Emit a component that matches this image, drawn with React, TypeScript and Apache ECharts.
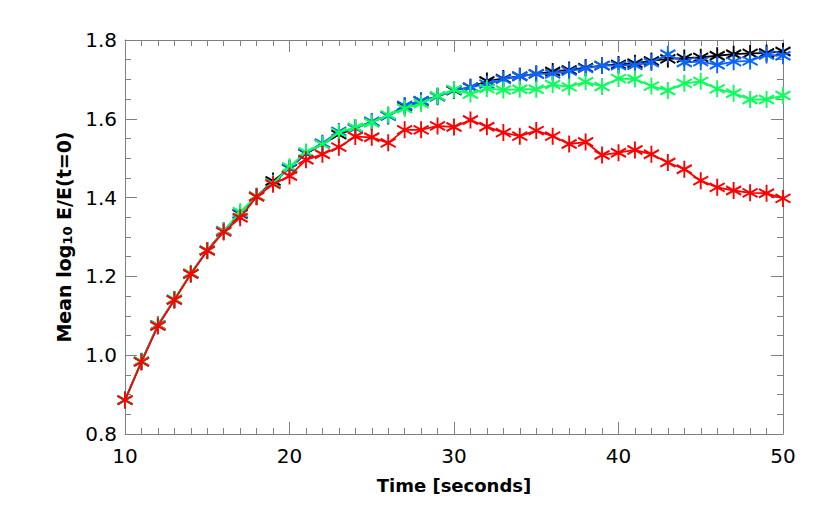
import React, { useEffect, useRef } from "react";
import * as echarts from "echarts";

const times: number[] = Array.from({ length: 41 }, (_, i) => 10 + i);

const blackSeries: number[] = [
  0.886, 0.984, 1.076, 1.141, 1.207, 1.266, 1.315, 1.358, 1.403, 1.442,
  1.474, 1.512, 1.536, 1.560, 1.577, 1.592, 1.608, 1.632, 1.645, 1.657,
  1.672, 1.680, 1.696, 1.702, 1.708, 1.714, 1.720, 1.724, 1.730, 1.735,
  1.738, 1.741, 1.747, 1.752, 1.754, 1.756, 1.760, 1.764, 1.766, 1.767,
  1.771,
];

const blueSeries: number[] = [
  0.886, 0.984, 1.077, 1.141, 1.207, 1.266, 1.316, 1.360, 1.403, 1.437,
  1.475, 1.513, 1.538, 1.568, 1.575, 1.593, 1.607, 1.634, 1.646, 1.656,
  1.673, 1.680, 1.688, 1.700, 1.708, 1.714, 1.714, 1.721, 1.728, 1.735,
  1.735, 1.736, 1.743, 1.764, 1.743, 1.745, 1.737, 1.745, 1.747, 1.762,
  1.760,
];

const greenSeries: number[] = [
  0.886, 0.985, 1.076, 1.142, 1.208, 1.266, 1.315, 1.364, 1.404, 1.436,
  1.478, 1.516, 1.535, 1.565, 1.578, 1.590, 1.610, 1.626, 1.639, 1.658,
  1.674, 1.663, 1.677, 1.673, 1.675, 1.675, 1.687, 1.681, 1.694, 1.682,
  1.702, 1.701, 1.683, 1.672, 1.690, 1.695, 1.676, 1.665, 1.649, 1.649,
  1.659,
];

const redSeries: number[] = [
  0.886, 0.983, 1.074, 1.140, 1.206, 1.265, 1.313, 1.349, 1.402, 1.434,
  1.455, 1.496, 1.510, 1.528, 1.555, 1.553, 1.539, 1.572, 1.572, 1.582,
  1.579, 1.597, 1.580, 1.565, 1.556, 1.570, 1.556, 1.536, 1.541, 1.508,
  1.514, 1.521, 1.510, 1.489, 1.472, 1.443, 1.426, 1.418, 1.412, 1.411,
  1.398,
];

const seriesNames = ["black", "blue", "green", "red"];
const seriesColors = ["#000000", "#0a64ff", "#0aff5a", "#ff0000"];
const seriesValues = [blackSeries, blueSeries, greenSeries, redSeries];

const xTitle = "Time [seconds]";

const STAR = "path://M0,-1L0,1M-0.866,-0.5L0.866,0.5M-0.866,0.5L0.866,-0.5";

export default function App() {
  const ref = useRef<HTMLDivElement>(null);
  useEffect(() => {
    if (!ref.current) return;
    const chart = echarts.init(ref.current, undefined, { renderer: "svg" });
    const axisColor = "#808080";
    const font = "DejaVu Sans";
    const tickCommon = {
      axisLine: { show: true, lineStyle: { color: axisColor, width: 1 } },
      axisTick: { show: true, inside: true, length: 12, lineStyle: { color: axisColor, width: 1 } },
      minorTick: { show: true, length: 6, lineStyle: { color: axisColor, width: 1 } },
      splitLine: { show: false },
    };
    chart.setOption({
      animation: false,
      backgroundColor: "#ffffff",
      grid: { left: 125, right: 39, top: 40, bottom: 80, containLabel: false },
      xAxis: [
        {
          type: "value",
          min: 10,
          max: 50,
          interval: 10,
          position: "bottom",
          ...tickCommon,
          minorTick: { ...tickCommon.minorTick, splitNumber: 10 },
          axisLabel: { color: "#000", fontFamily: font, fontSize: 20, margin: 12 },
          name: xTitle,
          nameLocation: "middle",
          nameGap: 42,
          nameTextStyle: { color: "#000", fontFamily: font, fontSize: 18, fontWeight: "bold" },
        },
        {
          type: "value",
          min: 10,
          max: 50,
          interval: 10,
          position: "top",
          ...tickCommon,
          minorTick: { ...tickCommon.minorTick, splitNumber: 10 },
          axisLabel: { show: false },
        },
      ],
      yAxis: [
        {
          type: "value",
          min: 0.8,
          max: 1.8,
          interval: 0.2,
          position: "left",
          ...tickCommon,
          minorTick: { ...tickCommon.minorTick, splitNumber: 4 },
          axisLabel: {
            color: "#000",
            fontFamily: font,
            fontSize: 20,
            margin: 8,
            formatter: (v: number) => v.toFixed(1),
          },
          name: "{a|Mean log}{s|10}{a| E/E(t=0)}",
          nameLocation: "middle",
          nameGap: 50,
          nameRotate: 90,
          nameTextStyle: {
            rich: {
              a: { color: "#000", fontFamily: font, fontSize: 19, fontWeight: "bold" },
              s: { color: "#000", fontFamily: font, fontSize: 13, fontWeight: "bold", verticalAlign: "bottom", padding: [8, 0, 0, 0] },
            },
          },
        },
        {
          type: "value",
          min: 0.8,
          max: 1.8,
          interval: 0.2,
          position: "right",
          ...tickCommon,
          minorTick: { ...tickCommon.minorTick, splitNumber: 4 },
          axisLabel: { show: false },
        },
      ],
      series: seriesValues.map((vals, i) => ({
        name: seriesNames[i],
        type: "line",
        xAxisIndex: 0,
        yAxisIndex: 0,
        data: times.map((t, j) => [t, vals[j]]),
        symbol: STAR,
        symbolSize: [15, 17],
        showSymbol: true,
        lineStyle: { color: seriesColors[i], width: 1.8 },
        itemStyle: { color: seriesColors[i], borderColor: seriesColors[i], borderWidth: 2 },
        z: 2 + i,
        clip: false,
      })),
    });
    return () => chart.dispose();
  }, []);
  return <div ref={ref} style={{ width: 822, height: 514, position: "absolute", left: 0, top: 0 }} />;
}
